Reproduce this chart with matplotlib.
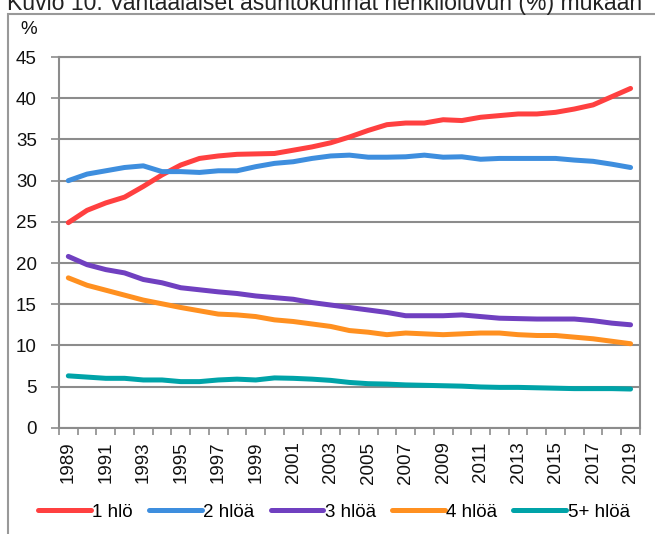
import numpy as np
import matplotlib.pyplot as plt
from matplotlib.patches import Rectangle

plt.rcParams['font.family'] = ['Liberation Sans Narrow', 'Liberation Sans', 'DejaVu Sans']

years = list(range(1989, 2020))
one_person = [24.9, 26.4, 27.3, 28.0, 29.3, 30.7, 31.9, 32.7, 33.0, 33.2, 33.25, 33.3, 33.7, 34.1, 34.6,
              35.3, 36.1, 36.8, 37.0, 37.0, 37.4, 37.3, 37.7, 37.9, 38.1, 38.1, 38.3, 38.7, 39.2, 40.2, 41.2]
two_persons = [30.0, 30.8, 31.2, 31.6, 31.8, 31.1, 31.1, 31.0, 31.2, 31.2, 31.7, 32.1, 32.3, 32.7, 33.0,
               33.1, 32.85, 32.85, 32.9, 33.1, 32.85, 32.9, 32.6, 32.7, 32.7, 32.7, 32.7, 32.5, 32.35, 32.0, 31.6]
three_persons = [20.8, 19.8, 19.2, 18.8, 18.0, 17.6, 17.0, 16.75, 16.5, 16.3, 16.0, 15.8, 15.6, 15.2, 14.9,
                 14.6, 14.3, 14.0, 13.6, 13.6, 13.6, 13.7, 13.5, 13.3, 13.25, 13.2, 13.2, 13.2, 13.0, 12.7, 12.5]
four_persons = [18.2, 17.3, 16.7, 16.1, 15.5, 15.05, 14.6, 14.2, 13.8, 13.7, 13.5, 13.1, 12.9, 12.6, 12.3,
                11.8, 11.6, 11.3, 11.5, 11.4, 11.3, 11.4, 11.5, 11.5, 11.3, 11.2, 11.2, 11.0, 10.8, 10.5, 10.2]
five_plus = [6.3, 6.15, 6.0, 6.0, 5.8, 5.8, 5.6, 5.6, 5.8, 5.9, 5.8, 6.05, 6.0, 5.9, 5.75,
             5.5, 5.35, 5.3, 5.2, 5.15, 5.1, 5.05, 4.95, 4.9, 4.9, 4.85, 4.8, 4.75, 4.75, 4.75, 4.7]

series = [one_person, two_persons, three_persons, four_persons, five_plus]
labels = ['1 hlö', '2 hlöä', '3 hlöä', '4 hlöä', '5+ hlöä']
colors = ['#FF4040', '#3E8EDE', '#7040C0', '#FF9020', '#00A3A8']

fig = plt.figure(figsize=(6.55, 5.34), dpi=100)
ax = fig.add_axes([0.090, 0.199, 0.887, 0.694])

x = np.arange(len(years))
for vals, lab, col in zip(series, labels, colors):
    ax.plot(x, vals, color=col, lw=3.6, solid_capstyle='round', solid_joinstyle='round', label=lab)

grid_col = '#8C8C8C'
fs = 13.5
ax.set_ylim(0, 45)
ax.set_yticks(range(0, 46, 5))
ax.set_xlim(-0.5, len(years) - 0.5)
ax.set_xticks(x[::2])
ax.set_xticklabels([str(y) for y in years[::2]], rotation=90)
ax.set_xticks(np.arange(-0.5, len(years), 1), minor=True)
ax.tick_params(axis='x', which='major', length=0, pad=10)
ax.tick_params(axis='x', which='minor', length=5, color=grid_col, width=1.2)
ax.tick_params(axis='y', length=6, color=grid_col, width=1.2, pad=10)
ax.tick_params(labelsize=fs, labelcolor='#111111')
ax.yaxis.grid(True, color=grid_col, lw=1.5)
ax.set_axisbelow(True)
for s in ax.spines.values():
    s.set_color(grid_col)
    s.set_linewidth(1.5)

fig.text(0.044, 0.944, '%', fontsize=fs, ha='center', va='center', color='#111111')

ax.legend(loc='center', bbox_to_anchor=(0.51, 0.041), bbox_transform=fig.transFigure,
          ncol=5, frameon=False, fontsize=fs, handlelength=2.8, handletextpad=0.1,
          columnspacing=0.85, borderpad=0)

# outer frame (cut off at the right and bottom) and clipped caption
fig.patches.append(Rectangle((8 / 655, -0.1), 1.1, 1 - 14 / 534 + 0.1, transform=fig.transFigure,
                             fill=False, edgecolor='#999999', lw=1.5))
fig.text(7 / 655, 1 - 10 / 534, 'Kuvio 10. Vantaalaiset asuntokunnat henkilöluvun (%) mukaan',
         fontsize=16.6, ha='left', va='baseline', color='#222222', family='Liberation Sans')

fig.savefig('out.png', dpi=100)
